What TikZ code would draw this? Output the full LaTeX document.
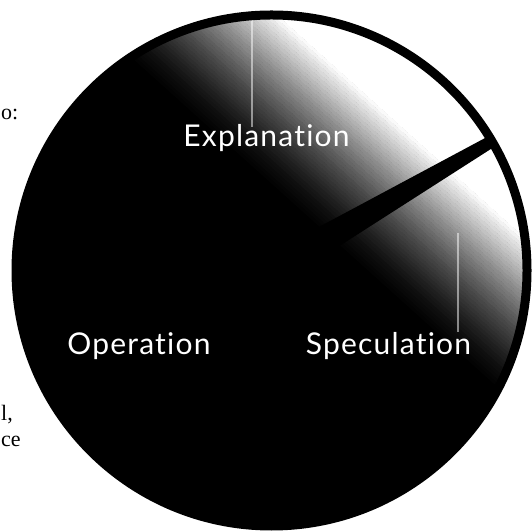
\documentclass[tikz,border=0pt]{standalone}
\usepackage{fontspec}
\setmainfont{Liberation Serif}
\newfontfamily\gillfont[Ligatures=NoCommon, LetterSpace=4]{Lato}
\begin{document}
\begin{tikzpicture}[x=1pt, y=1pt,
    sector/.style={text=white, inner sep=0pt, anchor=base, font=\gillfont\fontsize{30}{34}\selectfont},
    margintext/.style={inner sep=0pt, font=\fontsize{22}{26}\selectfont}]
  \useasboundingbox (0,0) rectangle (531,532);
  \coordinate (c) at (271.5,261.5);

  \begin{scope}
    \clip (c) circle (256);
    \fill[black] (c) circle (256);
    % fade to white towards the upper right
    \begin{scope}[shift={(357,445)}, rotate=48]
      \foreach \s in {0,3,...,132} {
        \pgfmathtruncatemacro\pct{100*((\s+1.5)/135)^1.5}
        \fill[white!\pct!black] (-135+\s,-400) rectangle (-131.7+\s,400);
      }
      \fill[white] (0,-400) rectangle (400,400);
    \end{scope}
    \draw[white, opacity=0.5, line width=1.2] (252,512) -- (252,405);
    \draw[white, opacity=0.5, line width=1.2] (458,299) -- (458,200);
    % spoke between explanation and speculation
    \fill[black, rotate around={30.4:(c)}] ([yshift=-16]c) -- ++(256,10) -- ++(0,12) -- ([yshift=16]c) -- cycle;
  \end{scope}
  \draw[black, line width=9] (c) circle (255.5);

  \node[sector] (expl) at (266.5,385) {Explanation};
  \node[sector] (oper) at (139,177) {Operation};
  \node[sector] (spec) at (388.5,177) {Speculation};

  \node[margintext, anchor=base west] (frag1) at (1,412) {o:};
  \node[margintext, anchor=base west] (frag2) at (1,111) {l,};
  \node[margintext, anchor=base west] (frag3) at (1,85) {ce};
\end{tikzpicture}
\end{document}
